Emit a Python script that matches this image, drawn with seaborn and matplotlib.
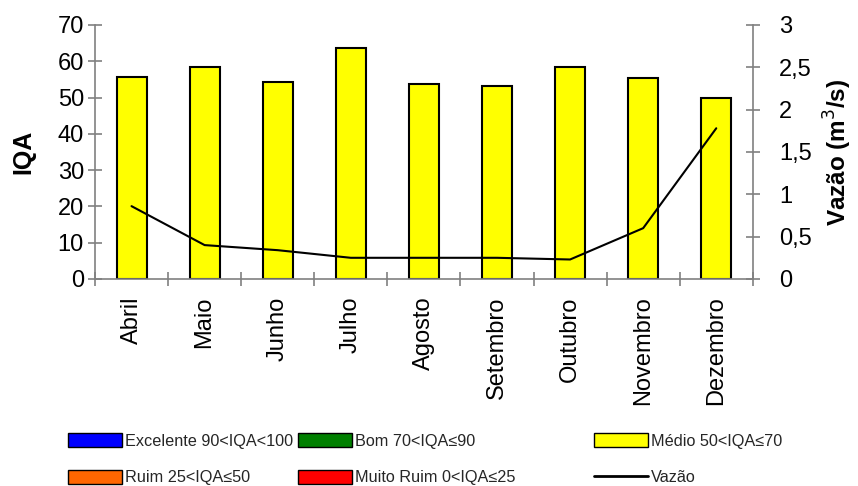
import numpy as np
import pandas as pd
import matplotlib
matplotlib.use('Agg')
import matplotlib.pyplot as plt
import seaborn as sns
from matplotlib.patches import Patch
from matplotlib.lines import Line2D
from matplotlib.ticker import FuncFormatter, MultipleLocator

# Dados
meses = ['Abril', 'Maio', 'Junho', 'Julho', 'Agosto', 'Setembro',
         'Outubro', 'Novembro', 'Dezembro']
iqa = [55.7, 58.3, 54.2, 63.7, 53.6, 53.2, 58.3, 55.3, 50.0]
vazao = [0.86, 0.40, 0.34, 0.25, 0.25, 0.25, 0.23, 0.60, 1.78]

classes = ['Excelente 90<IQA<100', 'Bom 70<IQA≤90', 'Médio 50<IQA≤70',
           'Ruim 25<IQA≤50', 'Muito Ruim 0<IQA≤25']
cores = ['#0000FF', '#008000', '#FFFF00', '#FF6600', '#FF0000']

df = pd.DataFrame({'Mes': meses, 'IQA': iqa, 'Vazao': vazao})

sns.set_style('white')
plt.rcParams['font.family'] = ['Liberation Sans', 'DejaVu Sans']

fig = plt.figure(figsize=(8.58, 4.86), dpi=100)
ax = fig.add_axes([0.1107, 0.426, 0.7667, 0.5226])

sns.barplot(data=df, x='Mes', y='IQA', color='#FFFF00', saturation=1,
            width=0.41, edgecolor='black', linewidth=1.5, ax=ax)
ax.set_xlim(-0.5, len(meses) - 0.5)
ax.set_ylim(0, 70)
ax.yaxis.set_major_locator(MultipleLocator(10))
ax.set_xlabel('')
ax.set_ylabel('IQA', fontsize=18, fontweight='bold', labelpad=16,
              color='black')

ax2 = ax.twinx()
sns.lineplot(x=np.arange(len(meses)), y=df['Vazao'], color='black',
             linewidth=1.5, ax=ax2, sort=False)
ax2.set_ylim(0, 3)
ax2.yaxis.set_major_locator(MultipleLocator(0.5))
ax2.yaxis.set_major_formatter(FuncFormatter(
    lambda v, p: ('%g' % v).replace('.', ',')))
ax2.set_ylabel('Vazão (m$^3$/s)', fontsize=17.5, fontweight='bold',
               labelpad=7, color='black')

cinza = '#808080'
for a in (ax, ax2):
    a.spines['top'].set_visible(False)
    for s in ('left', 'right', 'bottom'):
        a.spines[s].set_color(cinza)
        a.spines[s].set_linewidth(1.2)
ax.spines['right'].set_visible(False)
ax2.spines['left'].set_visible(False)
ax2.spines['bottom'].set_visible(False)

ax.tick_params(axis='y', direction='inout', length=10, width=1.2,
               color=cinza, labelcolor='black', labelsize=17, left=True,
               pad=3)
ax2.tick_params(axis='y', direction='inout', length=10, width=1.2,
                color=cinza, labelcolor='black', labelsize=17, right=True,
                pad=14)

# rótulos nos centros, marcas nas divisas
ax.set_xticks(np.arange(len(meses)))
ax.set_xticklabels(meses, rotation=90, fontsize=17)
ax.tick_params(axis='x', which='major', length=0, pad=12.5,
               labelcolor='black')
ax.set_xticks(np.arange(len(meses) + 1) - 0.5, minor=True)
ax.tick_params(axis='x', which='minor', direction='inout', length=10,
               width=1.2, color=cinza, bottom=True)

# legenda em três colunas
handles = [Patch(facecolor=c, edgecolor='black', linewidth=1) for c in cores]
handles.append(Line2D([0], [0], color='black', linewidth=2))
rotulos = classes + ['Vazão']
colunas = [(0, 3), (1, 4), (2, 5)]
xs = [0.0797, 0.3477, 0.6927]
for (i, j), x in zip(colunas, xs):
    fig.legend([handles[i], handles[j]], [rotulos[i], rotulos[j]],
               loc='upper left', bbox_to_anchor=(x, 0.109), ncol=1,
               frameon=False, fontsize=11.7, handlelength=3.3,
               handleheight=0.95, handletextpad=0.2, labelspacing=1.3,
               borderpad=0, borderaxespad=0)

fig.savefig('out.png', dpi=100)
